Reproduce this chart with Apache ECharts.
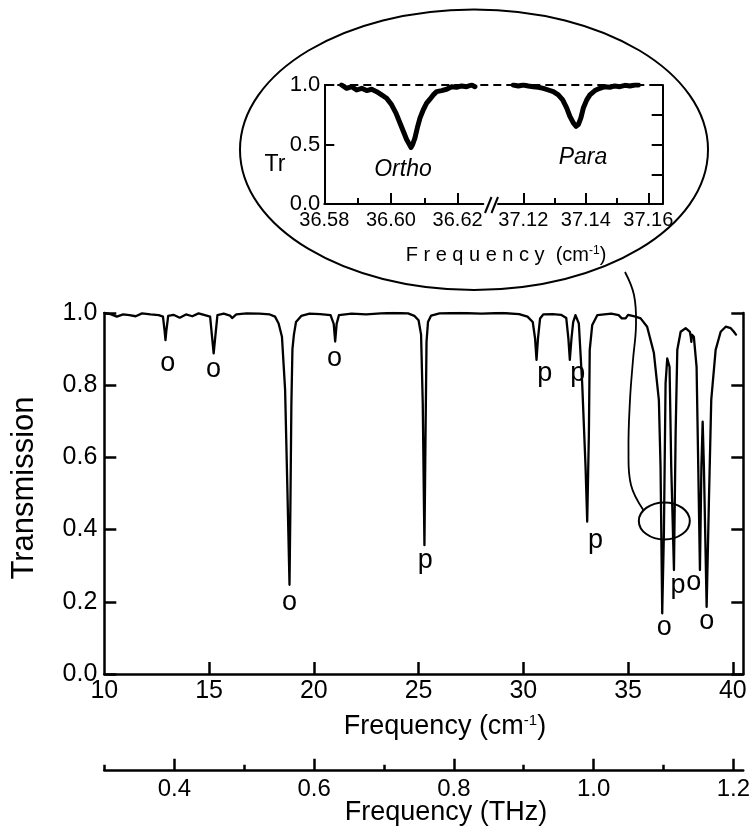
<!DOCTYPE html>
<html><head><meta charset="utf-8">
<script src="https://cdn.jsdelivr.net/npm/echarts@6/dist/echarts.min.js"></script>
<style>html,body{margin:0;padding:0;background:#fff}#c{width:753px;height:835px}</style>
</head><body><div id="c"></div>
<script>
// ---- main spectrum (frequency in cm^-1, transmission) ----
const freq = [10.00,10.30,10.60,10.90,11.20,11.50,11.80,12.20,12.60,12.80,12.88,12.92,12.96,13.05,13.30,13.60,13.90,14.20,14.50,14.80,
  15.05,15.15,15.22,15.29,15.40,15.70,16.00,16.10,16.30,16.80,17.40,17.90,18.15,18.32,18.48,18.63,18.74,18.84,18.88,18.93,
  18.98,19.05,19.15,19.40,19.80,20.30,20.80,20.95,21.02,21.09,21.20,21.80,22.50,23.20,23.80,24.50,24.80,25.00,25.12,25.20,
  25.28,25.33,25.38,25.45,25.60,26.00,27.00,28.00,29.00,29.80,30.20,30.45,30.56,30.63,30.70,30.80,30.95,31.40,31.80,32.05,
  32.15,32.22,32.30,32.38,32.49,32.65,32.81,32.97,33.05,33.13,33.17,33.29,33.53,34.20,34.55,34.70,34.88,35.00,35.36,35.60,
  35.91,36.23,36.47,36.55,36.63,36.71,36.79,36.87,36.98,37.06,37.19,37.27,37.35,37.51,37.75,37.95,37.99,38.02,38.05,38.14,
  38.27,38.35,38.43,38.50,38.56,38.62,38.75,38.86,38.97,39.18,39.42,39.66,39.90,40.05,40.15];
const trans = [1.000,0.997,0.990,0.996,0.994,0.991,0.999,0.996,0.994,0.990,0.950,0.925,0.950,0.992,0.995,0.987,0.996,0.991,0.999,0.994,
  0.990,0.930,0.888,0.930,0.994,0.998,0.993,0.986,0.996,0.999,0.998,0.996,0.990,0.971,0.934,0.787,0.510,0.247,0.450,0.750,
  0.900,0.940,0.975,0.992,0.998,0.997,0.994,0.970,0.921,0.970,0.994,0.998,0.996,0.999,1.000,0.999,0.992,0.980,0.940,0.750,
  0.357,0.650,0.920,0.975,0.993,0.999,1.000,0.998,1.000,0.997,0.990,0.975,0.930,0.870,0.930,0.985,0.996,0.997,0.995,0.986,
  0.930,0.870,0.930,0.975,0.994,0.971,0.805,0.574,0.422,0.667,0.898,0.967,0.994,0.998,0.994,0.985,0.985,0.995,0.990,0.985,
  0.962,0.890,0.759,0.574,0.168,0.390,0.805,0.874,0.851,0.574,0.288,0.667,0.898,0.948,0.958,0.948,0.935,0.920,0.940,0.934,
  0.851,0.574,0.288,0.574,0.699,0.574,0.186,0.482,0.759,0.898,0.948,0.962,0.958,0.948,0.940];

// ---- line assignment labels (o = ortho, p = para) ----
const peakLabels = ['o','o','o','o','p','p','p','p','o','p','o','o'];
const labelFreq  = [13.03,15.21,18.84,20.99,25.32,31.02,32.60,33.44,36.73,37.38,38.14,38.75];
const labelTrans = [0.859,0.842,0.197,0.873,0.313,0.831,0.831,0.371,0.129,0.244,0.252,0.145];

// ---- inset: high-resolution scans ----
const orthoFreq = [36.5852,36.5867,36.5882,36.5897,36.5912,36.5927,36.5942,36.5957,36.5972,36.5987,36.6002,36.6015,36.6027,36.6037,
  36.6047,36.6057,36.6060,36.6065,36.6072,36.6079,36.6087,36.6097,36.6107,36.6117,36.6127,36.6137,36.6152,36.6167,36.6182,36.6197,
  36.6212,36.6227,36.6242,36.6252];
const orthoTrans = [1.000,0.972,0.986,0.958,0.972,0.953,0.964,0.944,0.917,0.889,0.833,0.764,0.681,0.611,
  0.542,0.492,0.475,0.500,0.556,0.639,0.722,0.792,0.847,0.881,0.917,0.944,0.953,0.964,0.986,0.981,
  0.992,0.986,1.000,0.986];
const paraFreq = [37.1168,37.1184,37.1200,37.1216,37.1232,37.1248,37.1264,37.1280,37.1296,37.1312,37.1326,37.1339,37.1349,37.1360,
  37.1369,37.1376,37.1384,37.1392,37.1403,37.1413,37.1429,37.1445,37.1461,37.1477,37.1493,37.1509,37.1525,37.1541,37.1557,37.1568];
const paraTrans = [1.000,0.992,1.000,0.992,0.986,0.981,0.972,0.958,0.944,0.917,0.875,0.806,0.736,0.681,
  0.653,0.667,0.722,0.806,0.875,0.917,0.953,0.972,0.986,0.981,0.992,0.986,0.997,0.992,1.000,1.000];
const insetNames = ['Ortho','Para'];
const insetNameFreq = [36.6036,37.1391];
const insetNameTrans = [0.29,0.39];

// ---- axes ticks ----
const xTickLabels = [10,15,20,25,30,35,40];
const thzMajor = [0.4,0.6,0.8,1.0,1.2];
const thzMinor = [0.3,0.5,0.7,0.9,1.1];
const insetLeftMajor = [36.58,36.60,36.62];
const insetLeftMinor = [36.59,36.61];
const insetRightMajor = [37.12,37.14,37.16];
const insetRightMinor = [37.13,37.15];
const insetYLabels = [0,0.5,1.0];
const insetYLeftTicks = [0.5,1.0];
const insetYRightTicks = [0.25,0.5,0.75,1.0];
const CM_PER_THZ = 33.356;
const X_MIN = 10, X_MAX = 40.5;
const zoomMark = [36.73, 0.424];

const FONT = "'Liberation Sans', Arial, Helvetica, sans-serif";
const BLACK = '#000';
const axLine = w => ({show:true, onZero:false, lineStyle:{color:BLACK, width:w}});
const tick = (vals, len, w) => ({show:true, inside:true, length:len, customValues:vals, lineStyle:{color:BLACK, width:w}});
const txtLabel = (size, italic) => ({show:true, position:'inside', formatter:p=>p.data[2], color:BLACK,
  fontFamily:FONT, fontSize:size, fontStyle:italic?'italic':'normal', textBorderWidth:0, textShadowBlur:0, opacity:1});

const chart = echarts.init(document.getElementById('c'), null, {renderer:'canvas'});

const option = {
  animation:false,
  backgroundColor:'#fff',
  grid:[
    {left:104.3, top:313, width:639, height:361},
    {left:104.3, top:760, width:639, height:10.7},
    {left:324.3, top:85, width:338.4, height:119},
    {left:324.3, top:85, width:159, height:119},
    {left:498, top:85, width:164.7, height:119}
  ],
  xAxis:[
    {gridIndex:0, type:'value', min:X_MIN, max:X_MAX, axisLine:axLine(2.5),
     axisTick:tick(xTickLabels.slice(1),12,2.5), splitLine:{show:false},
     axisLabel:{customValues:xTickLabels, color:BLACK, fontFamily:FONT, fontSize:25, margin:5}},
    {gridIndex:1, type:'value', min:X_MIN/CM_PER_THZ, max:X_MAX/CM_PER_THZ, axisLine:axLine(2.5),
     axisTick:tick(thzMajor,12,2.5), splitLine:{show:false},
     axisLabel:{customValues:thzMajor, formatter:v=>v.toFixed(1), color:BLACK, fontFamily:FONT, fontSize:24, margin:7}},
    {gridIndex:1, type:'value', position:'bottom', min:X_MIN/CM_PER_THZ, max:X_MAX/CM_PER_THZ, axisLine:{show:false},
     axisTick:tick(thzMinor,6,2.5), splitLine:{show:false}, axisLabel:{show:false}},
    {gridIndex:2, type:'value', min:0, max:1, show:false},
    {gridIndex:3, type:'value', min:36.58, max:36.6277, axisLine:axLine(2),
     axisTick:tick(insetLeftMajor.slice(1),11,2), splitLine:{show:false},
     axisLabel:{customValues:insetLeftMajor, formatter:v=>v.toFixed(2), color:BLACK, fontFamily:FONT, fontSize:20, margin:6}},
    {gridIndex:3, type:'value', position:'bottom', min:36.58, max:36.6277, axisLine:{show:false},
     axisTick:tick(insetLeftMinor,6,2), splitLine:{show:false}, axisLabel:{show:false}},
    {gridIndex:4, type:'value', min:37.1119, max:37.1646, axisLine:axLine(2),
     axisTick:tick(insetRightMajor,11,2), splitLine:{show:false},
     axisLabel:{customValues:insetRightMajor, formatter:v=>v.toFixed(2), color:BLACK, fontFamily:FONT, fontSize:20, margin:6}},
    {gridIndex:4, type:'value', position:'bottom', min:37.1119, max:37.1646, axisLine:{show:false},
     axisTick:tick(insetRightMinor,6,2), splitLine:{show:false}, axisLabel:{show:false}}
  ],
  yAxis:[
    {gridIndex:0, type:'value', min:0, max:1, interval:0.2, axisLine:axLine(2.5),
     axisTick:{show:true, inside:true, length:12, lineStyle:{color:BLACK, width:2.5}}, splitLine:{show:false},
     axisLabel:{formatter:v=>v.toFixed(1), color:BLACK, fontFamily:FONT, fontSize:25, margin:7}},
    {gridIndex:0, type:'value', position:'right', min:0, max:1, interval:0.2, axisLine:axLine(2.5),
     axisTick:{show:true, inside:true, length:12, lineStyle:{color:BLACK, width:2.5}}, splitLine:{show:false},
     axisLabel:{show:false}},
    {gridIndex:1, type:'value', min:0, max:1, show:false},
    {gridIndex:2, type:'value', min:0, max:1, axisLine:axLine(2),
     axisTick:tick(insetYLeftTicks,10,2), splitLine:{show:false},
     axisLabel:{customValues:insetYLabels, formatter:v=>v.toFixed(1), color:BLACK, fontFamily:FONT, fontSize:22, margin:4}},
    {gridIndex:2, type:'value', position:'right', min:0, max:1, axisLine:axLine(2),
     axisTick:tick(insetYRightTicks,11,2), splitLine:{show:false}, axisLabel:{show:false}},
    {gridIndex:3, type:'value', min:0, max:1, show:false},
    {gridIndex:4, type:'value', min:0, max:1, show:false}
  ],
  series:[
    {type:'line', xAxisIndex:0, yAxisIndex:0, symbol:'none', silent:true,
     data:freq.map((f,i)=>[f,trans[i]]),
     lineStyle:{color:BLACK, width:2.3, join:'round', cap:'round'}},
    {type:'scatter', xAxisIndex:0, yAxisIndex:0, symbolSize:1, silent:true,
     itemStyle:{color:'rgba(255,255,255,0)'},
     data:peakLabels.map((t,i)=>[labelFreq[i],labelTrans[i],t]),
     label:txtLabel(27,false), emphasis:{disabled:true}},
    {type:'line', xAxisIndex:3, yAxisIndex:3, data:[], silent:true,
     markLine:{silent:true, symbol:['none','none'], label:{show:false},
       lineStyle:{type:[8,5], color:BLACK, width:2}, data:[{yAxis:1}]}},
    {type:'line', xAxisIndex:4, yAxisIndex:5, symbol:'none', silent:true,
     data:orthoFreq.map((f,i)=>[f,orthoTrans[i]]),
     lineStyle:{color:BLACK, width:5, join:'round', cap:'round'}},
    {type:'line', xAxisIndex:6, yAxisIndex:6, symbol:'none', silent:true,
     data:paraFreq.map((f,i)=>[f,paraTrans[i]]),
     lineStyle:{color:BLACK, width:5, join:'round', cap:'round'}},
    {type:'scatter', xAxisIndex:4, yAxisIndex:5, symbolSize:1, silent:true, itemStyle:{color:'rgba(255,255,255,0)'},
     data:[[insetNameFreq[0],insetNameTrans[0],insetNames[0]]], label:txtLabel(23,true), emphasis:{disabled:true}},
    {type:'scatter', xAxisIndex:6, yAxisIndex:6, symbolSize:1, silent:true, itemStyle:{color:'rgba(255,255,255,0)'},
     data:[[insetNameFreq[1],insetNameTrans[1],insetNames[1]]], label:txtLabel(23,true), emphasis:{disabled:true}}
  ]
};
chart.setOption(option);

const zm = chart.convertToPixel({xAxisIndex:0, yAxisIndex:0}, zoomMark);
const plain = (id, x, y, text, size, extra) => Object.assign({
  type:'text', id, x, y, silent:true,
  style:{text, fill:BLACK, font:size+'px '+FONT, align:'center', verticalAlign:'middle', textAlign:'center', textVerticalAlign:'middle'}
}, extra||{});
const supText = (id, x, y, main, sup, size, supSize) => ({
  type:'text', id, x, y, silent:true,
  style:{text:'{a|'+main+'}{s|'+sup+'}{a|)}', fill:BLACK, align:'center', verticalAlign:'middle',
    textAlign:'center', textVerticalAlign:'middle',
    rich:{a:{fontSize:size, fontFamily:FONT, fill:BLACK, verticalAlign:'bottom'},
          s:{fontSize:supSize, fontFamily:FONT, fill:BLACK, verticalAlign:'top'}}}
});

chart.setOption({graphic:[
  {type:'ellipse', id:'bigEllipse', silent:true, shape:{cx:474, cy:149.7, rx:234, ry:140.3},
   style:{fill:'none', stroke:BLACK, lineWidth:2}},
  {type:'ellipse', id:'smallEllipse', silent:true, shape:{cx:zm[0], cy:zm[1], rx:25.5, ry:18.5},
   style:{fill:'none', stroke:BLACK, lineWidth:2}},
  {type:'polyline', id:'connector', silent:true,
   shape:{points:[[625,272],[634,295],[636,325],[633,360],[630,400],[628.5,450],[631,485],[zm[0]-21,zm[1]-11]], smooth:0.4},
   style:{fill:'none', stroke:BLACK, lineWidth:1.8}},
  {type:'line', id:'brk1', silent:true, shape:{x1:485, y1:213, x2:491.5, y2:197}, style:{stroke:BLACK, lineWidth:2}},
  {type:'line', id:'brk2', silent:true, shape:{x1:491.5, y1:213, x2:498, y2:197}, style:{stroke:BLACK, lineWidth:2}},
  plain('ytitle', 24, 488, 'Transmission', 31, {rotation:Math.PI/2}),
  supText('xtitle', 445, 727, 'Frequency (cm', '-1', 27, 15),
  plain('thztitle', 446, 813, 'Frequency (THz)', 27),
  supText('insetx', 506, 255, 'F r e q u e n c y  (cm', '-1', 20, 12),
  plain('tr', 275, 165, 'Tr', 23)
]});
</script></body></html>
